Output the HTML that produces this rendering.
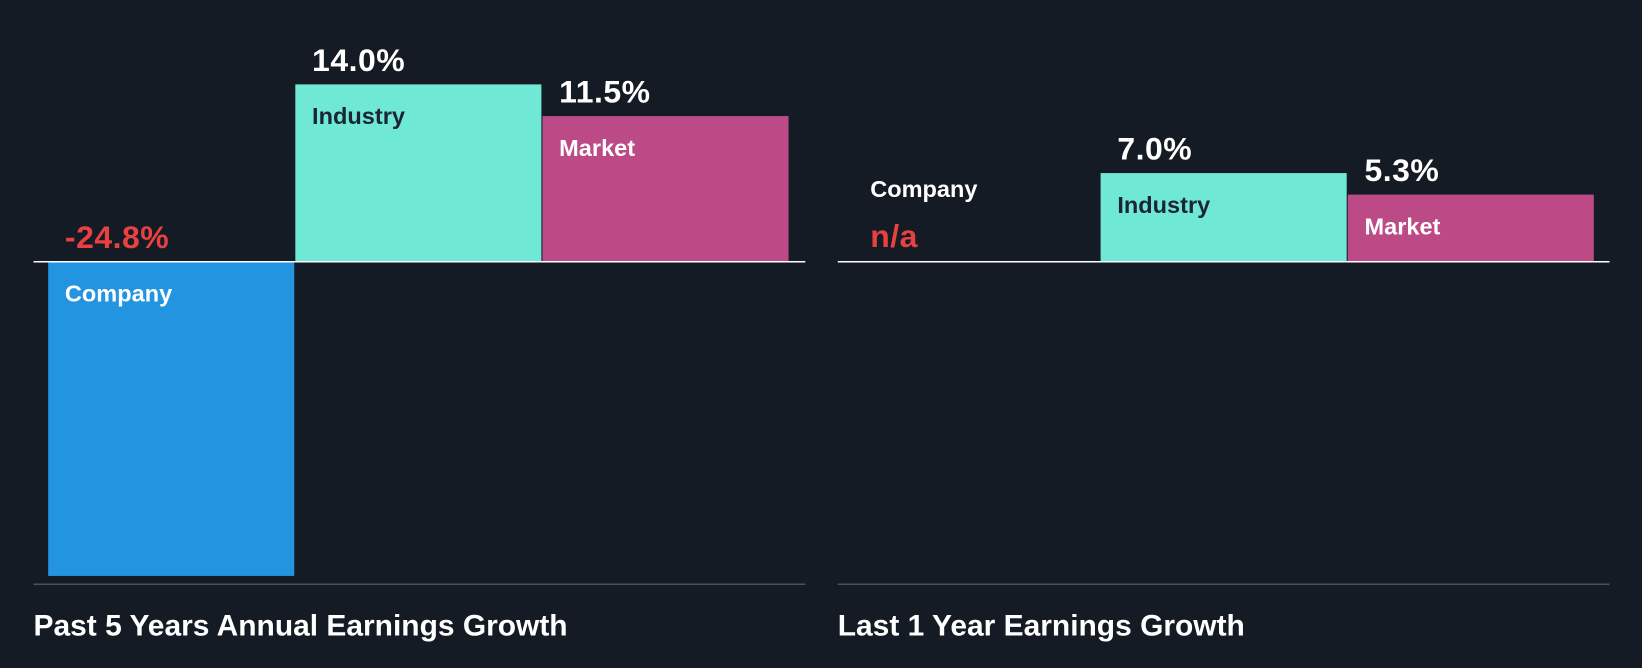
<!DOCTYPE html>
<html><head><meta charset="utf-8">
<style>
html,body{margin:0;padding:0;background:#151b24;width:1642px;height:668px;overflow:hidden}
svg{display:block;font-family:"Liberation Sans",Arial,sans-serif;font-weight:bold}
</style></head>
<body>
<svg id="chart" width="1642" height="668" viewBox="0 0 1568 638" preserveAspectRatio="none" xmlns="http://www.w3.org/2000/svg">
<rect width="1568" height="638" fill="#151b24"/>
</svg>
<script>
const categories = ["Company","Industry","Market"];
const past5Values = [-24.8, 14.0, 11.5];
const past5Labels = ["-24.8%","14.0%","11.5%"];
const last1Values = [null, 7.0, 5.3];
const last1Labels = ["n/a","7.0%","5.3%"];
const colors = ["#2394e0","#6fe8d6","#bb4a86"];
const catTextColors = ["#ffffff","#1b2633","#ffffff"];

const NS = "http://www.w3.org/2000/svg";
const svg = document.getElementById("chart");
const baseY = 250, bottomY = 558, pxPer = 12.1, barW = 235;
function yScale(v){ return baseY - v*pxPer; }
function mk(tag, attrs, text){
  const e = document.createElementNS(NS, tag);
  for (const k in attrs) e.setAttribute(k, attrs[k]);
  if (text !== undefined) e.textContent = text;
  svg.appendChild(e); return e;
}
function panel(x0, x1, barX, values, labels, title, key){
  values.forEach((v,i)=>{
    const bx = barX + i*(barW+1);
    if (v === null){
      const t1 = mk("text",{x:bx+16,y:188,fill:"#ffffff","font-size":22.5},categories[i]);
      
      
      const t2 = mk("text",{x:bx+16,y:236,fill:"#e84142","font-size":30.5,"letter-spacing":0.5},labels[i]);
      
      
      return;
    }
    let top = Math.min(yScale(v), baseY), bot = Math.max(yScale(v), baseY);
    bot = Math.min(bot, bottomY);
    const r = mk("rect",{x:bx,y:top,width:barW,height:bot-top,fill:colors[i]});
    
    
    const neg = v < 0;
    const c = mk("text",{x:bx+16,y:(neg?baseY:top)+38,fill:catTextColors[i],"font-size":22.5},categories[i]);
    
    
    const vl = mk("text",{x:bx+16,y:(neg?baseY:top)-13,fill:neg?"#e84142":"#ffffff","font-size":30.5,"letter-spacing":0.5},labels[i]);
    
    
  });
  const zl = mk("line",{x1:x0,x2:x1,y1:baseY,y2:baseY,stroke:"#ffffff","stroke-width":1.5});
  
  
  const bl = mk("line",{x1:x0,x2:x1,y1:bottomY,y2:bottomY,stroke:"#4a5260","stroke-width":1.5});
  
  
  const t = mk("text",{x:x0,y:607,fill:"#ffffff","font-size":28.6},title);
  
  
}
panel(32, 769, 46, past5Values, past5Labels, "Past 5 Years Annual Earnings Growth", "past-5-years");
panel(800, 1537, 815, last1Values, last1Labels, "Last 1 Year Earnings Growth", "last-1-year");
</script>
</body></html>
